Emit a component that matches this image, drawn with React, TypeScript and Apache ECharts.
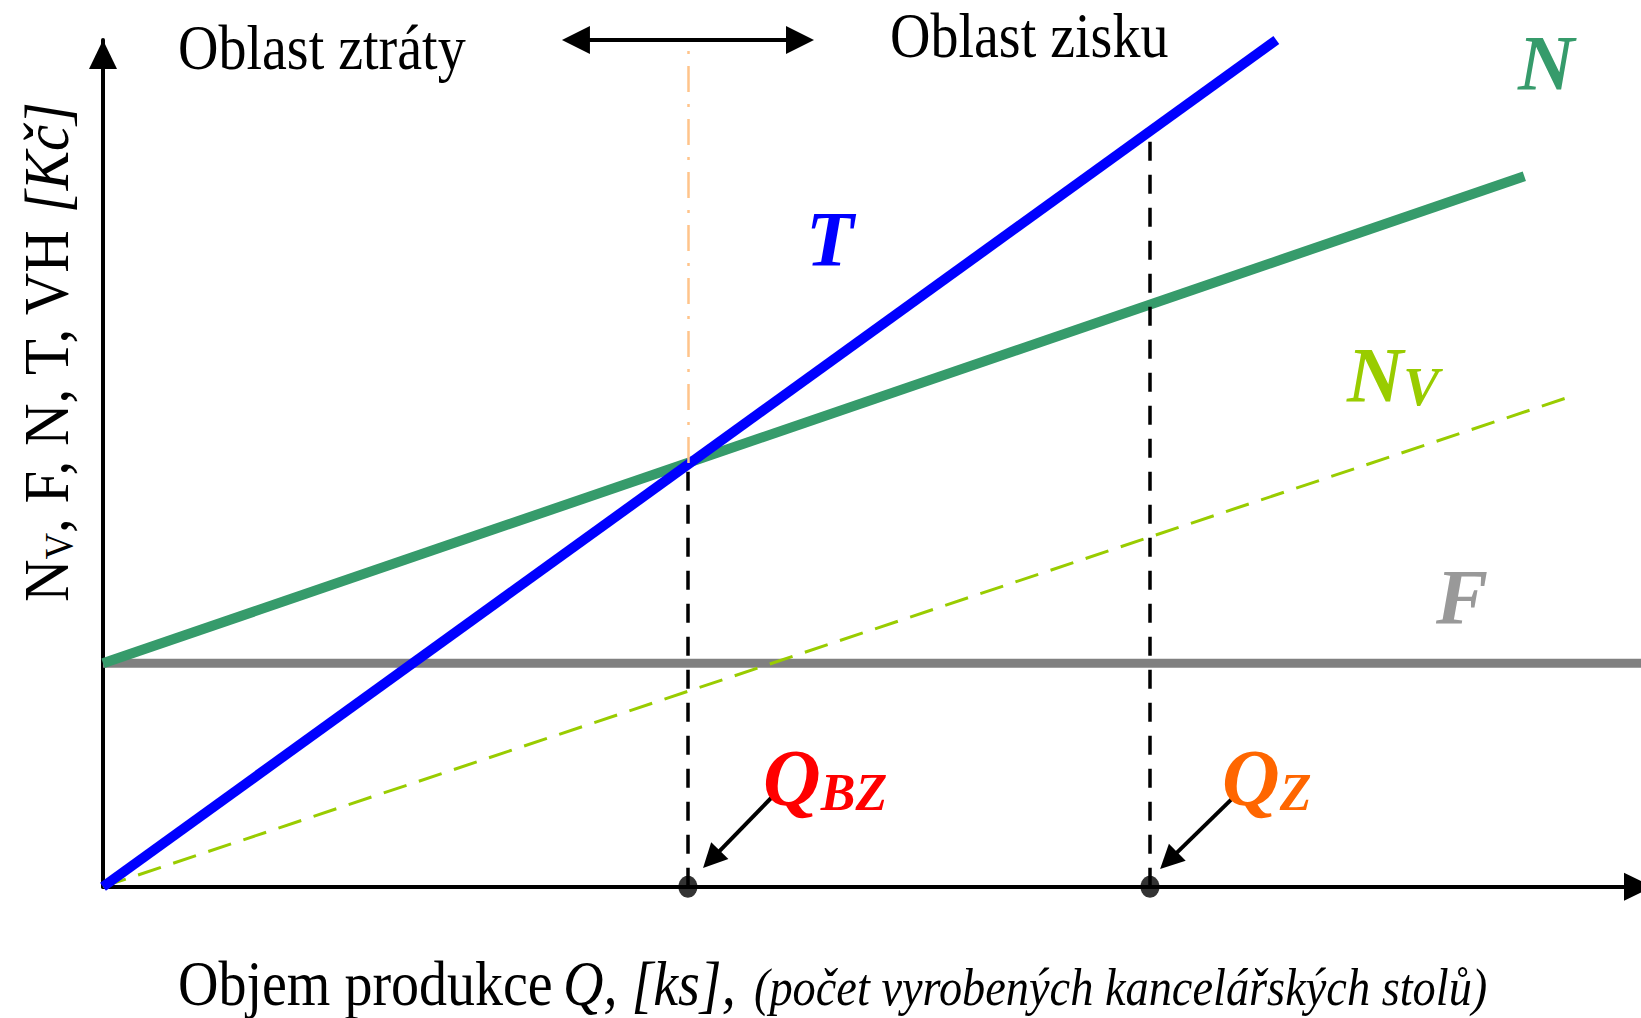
import React, { useEffect, useRef } from "react";
import * as echarts from "echarts";

// ---- data (units: ks on x, Kč on y) ----
const X_MAX = 1325;
const Y_MAX = 3790;

const Q_BZ = 500; // break-even volume
const Q_Z = 895; // volume in profit region
const BREAK_EVEN_VALUE = 1897;
const T_AT_QZ = 3395;
const GUIDE_TOP = 3760;

const revenueT: number[][] = [[0, 0], [1003, 3790]];
const totalCostN: number[][] = [[0, 1000], [1215, 3180]];
const variableCostNv: number[][] = [[0, 0], [1255, 2195]];
const fixedCostF: number[][] = [[0, 1000], [1325, 1000]];
const markedVolumes: number[][] = [[Q_BZ, 0], [Q_Z, 0]];

// annotation arrows (data coordinates)
const ARROW_BZ = [[572.8, 406], [520.1, 122.6]];
const ARROW_Z = [[966.8, 402], [911, 116.8]];
const REGION_ARROW = [[404.3, Y_MAX], [595.8, Y_MAX]];

const SERIF = '"Liberation Serif", "Times New Roman", serif';

function label(text: string, left: number, baseline: number, size: number, extra: any = {}) {
  const { fill = "#000", weight = "normal", fstyle = "normal", scaleX = 1, lineHeight } = extra;
  return {
    type: "text",
    x: left,
    y: baseline - 0.3375 * size,
    scaleX,
    silent: true,
    z: 100,
    style: {
      text,
      fill,
      fontFamily: SERIF,
      fontSize: size,
      fontWeight: weight,
      fontStyle: fstyle,
      lineHeight: lineHeight ?? size,
      align: "left",
      verticalAlign: "middle",
    },
  };
}

// base letter + subscript as one rich text; bottom = block bottom
function subLabel(base: string, sub: string, left: number, bottom: number, size: number, subSize: number, subLH: number, fill: string) {
  const tok = { fontFamily: SERIF, fontWeight: "bold", fontStyle: "italic", fill, color: fill, verticalAlign: "bottom" };
  return {
    type: "text",
    x: left,
    y: bottom,
    silent: true,
    z: 100,
    style: {
      text: `{b|${base}}{s|${sub}}`,
      fill,
      fontFamily: SERIF,
      fontSize: size,
      align: "left",
      verticalAlign: "bottom",
      rich: {
        b: { ...tok, fontSize: size, lineHeight: size },
        s: { ...tok, fontSize: subSize, lineHeight: subLH },
      },
    },
  };
}

export default function App() {
  const ref = useRef<HTMLDivElement>(null);
  useEffect(() => {
    if (!ref.current) return;
    const chart = echarts.init(ref.current, null, { renderer: "svg" });
    const axisLine = () => ({
      show: true,
      onZero: false,
      symbol: ["none", "triangle"],
      symbolSize: [28, 29],
      symbolOffset: [0, -14.5],
      lineStyle: { color: "#000", width: 4 },
    });
    const big = 64;
    const cond = 0.875;
    chart.setOption({
      animation: false,
      backgroundColor: "#fff",
      grid: { left: 103, right: 7, top: 40, bottom: 131.3, containLabel: false, outerBoundsMode: "none" },
      xAxis: {
        type: "value",
        min: 0,
        max: X_MAX,
        axisLine: axisLine(),
        axisTick: { show: false },
        axisLabel: { show: false },
        splitLine: { show: false },
      },
      yAxis: {
        type: "value",
        min: 0,
        max: Y_MAX,
        axisLine: axisLine(),
        axisTick: { show: false },
        axisLabel: { show: false },
        splitLine: { show: false },
      },
      series: [
        {
          name: "F",
          type: "line",
          data: fixedCostF,
          symbol: "none",
          clip: false,
          z: 1,
          lineStyle: { color: "#808080", width: 9 },
        },
        {
          name: "Nv",
          type: "line",
          data: variableCostNv,
          symbol: "none",
          clip: false,
          z: 2,
          lineStyle: { color: "#99CC00", width: 3, type: [24, 13] },
        },
        {
          name: "N",
          type: "line",
          data: totalCostN,
          symbol: "none",
          clip: false,
          z: 3,
          lineStyle: { color: "#369B6B", width: 10 },
        },
        {
          name: "T",
          type: "line",
          data: revenueT,
          symbol: "none",
          clip: false,
          z: 4,
          lineStyle: { color: "#0000FF", width: 10 },
        },
        {
          name: "guides",
          type: "scatter",
          data: [],
          z: 5,
          markLine: {
            silent: true,
            symbol: ["none", "none"],
            label: { show: false },
            emphasis: { disabled: true },
            lineStyle: { color: "#000", width: 3.5, type: [19, 14] },
            data: [
              [{ coord: [Q_BZ, 0] }, { coord: [Q_BZ, BREAK_EVEN_VALUE] }],
              [{ coord: [Q_Z, 0] }, { coord: [Q_Z, T_AT_QZ] }],
            ],
          },
        },
        {
          name: "bzGuide",
          type: "scatter",
          data: [],
          z: 5,
          markLine: {
            silent: true,
            symbol: ["none", "none"],
            label: { show: false },
            emphasis: { disabled: true },
            lineStyle: { color: "#FFC48A", width: 2.5, type: [26, 12, 3, 12] },
            data: [[{ coord: [Q_BZ, BREAK_EVEN_VALUE] }, { coord: [Q_BZ, GUIDE_TOP] }]],
          },
        },
        {
          name: "pointers",
          type: "scatter",
          data: [],
          z: 6,
          markLine: {
            silent: true,
            symbol: ["none", "triangle"],
            symbolSize: 24,
            label: { show: false },
            emphasis: { disabled: true },
            lineStyle: { color: "#000", width: 4, type: "solid" },
            data: [
              [{ coord: ARROW_BZ[0] }, { coord: ARROW_BZ[1] }],
              [{ coord: ARROW_Z[0] }, { coord: ARROW_Z[1] }],
            ],
          },
        },
        {
          name: "region",
          type: "scatter",
          data: [],
          z: 6,
          markLine: {
            silent: true,
            symbol: ["triangle", "triangle"],
            symbolSize: 28,
            label: { show: false },
            emphasis: { disabled: true },
            lineStyle: { color: "#000", width: 4, type: "solid" },
            data: [[{ coord: REGION_ARROW[0] }, { coord: REGION_ARROW[1] }]],
          },
        },
        {
          name: "volumes",
          type: "scatter",
          data: markedVolumes,
          symbol: "circle",
          symbolSize: [19, 22],
          itemStyle: { color: "#000" },
          clip: false,
          z: 7,
          silent: true,
        },
      ],
      graphic: [
        label("Oblast ztráty", 178, 69, big, { scaleX: cond, lineHeight: 56 }),
        label("Oblast zisku", 890, 57, big, { scaleX: cond, lineHeight: 56 }),
        label("T", 806, 265, 78, { fill: "#0000FF", weight: "bold", fstyle: "italic" }),
        label("N", 1518, 89, 78, { fill: "#369B6B", weight: "bold", fstyle: "italic" }),
        label("F", 1436, 623, 78, { fill: "#999999", weight: "bold", fstyle: "italic" }),
        subLabel("N", "V", 1347, 413.7, 78, 54, 37.8, "#99CC00"),
        subLabel("Q", "BZ", 763, 818, 80, 52, 45, "#FF0000"),
        subLabel("Q", "Z", 1222, 818, 80, 52, 45, "#FF6600"),
        label("Objem produkce", 178, 1005, big, { scaleX: cond }),
        label("Q, [ks],", 563, 1005, big, { scaleX: cond, fstyle: "italic" }),
        label("(počet vyrobených kancelářských stolů)", 754, 1005, 53, { scaleX: cond, fstyle: "italic" }),
        {
          type: "text",
          x: 78.4,
          y: 602,
          rotation: Math.PI / 2,
          scaleX: 0.92,
          silent: true,
          z: 100,
          style: {
            text: "{n|N}{v|V}{r|, F, N, T, VH }{k|[Kč]}",
            fill: "#000",
            fontFamily: SERIF,
            fontSize: big,
            align: "left",
            verticalAlign: "bottom",
            rich: {
              n: { fontSize: big, lineHeight: big, fontFamily: SERIF, verticalAlign: "bottom", fill: "#000" },
              v: { fontSize: 40, lineHeight: 40, fontFamily: SERIF, verticalAlign: "bottom", fill: "#000" },
              r: { fontSize: big, lineHeight: big, fontFamily: SERIF, verticalAlign: "bottom", fill: "#000" },
              k: { fontSize: big, lineHeight: big, fontFamily: SERIF, fontStyle: "italic", verticalAlign: "bottom", fill: "#000" },
            },
          },
        },
      ],
    });
    return () => chart.dispose();
  }, []);
  return (
    <div
      style={{
        position: "fixed",
        left: 0,
        top: 0,
        width: 1641,
        height: 1018,
        overflow: "hidden",
        background: "#fff",
      }}
    >
      <div ref={ref} style={{ width: 1660, height: 1018 }} />
    </div>
  );
}
